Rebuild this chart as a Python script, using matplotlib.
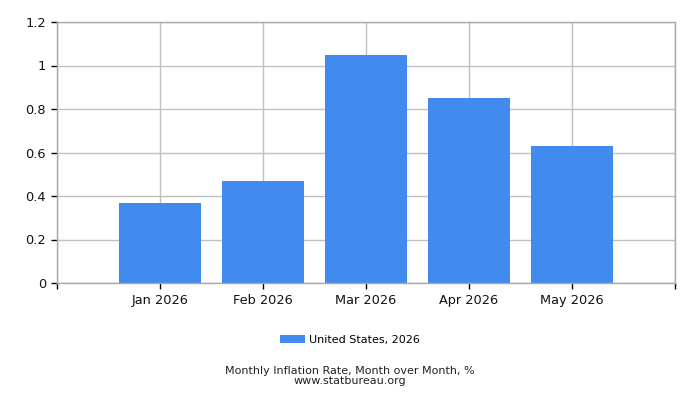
import matplotlib.pyplot as plt

# monthly inflation, month over month (%)
months = ["Jan 2026", "Feb 2026", "Mar 2026", "Apr 2026", "May 2026"]
values = [0.37, 0.47, 1.05, 0.85, 0.63]
y_ticks = [0, 0.2, 0.4, 0.6, 0.8, 1, 1.2]
y_labels = ["0", "0.2", "0.4", "0.6", "0.8", "1", "1.2"]

plt.rcParams['font.family'] = 'DejaVu Sans'

fig = plt.figure(figsize=(7, 4), dpi=100)
ax = fig.add_axes([57/700, 1-283/400, 618/700, 261/400])

pos = list(range(len(months)))
ax.bar(pos, values, width=0.8, color="#418bee", zorder=2, label="United States, 2026")

ax.set_xlim(-1, len(months))
ax.set_ylim(0, 1.2)
ax.set_xticks([-1] + pos + [len(months)])
ax.set_xticklabels([""] + months + [""], fontsize=9.3, color="#111111")
ax.set_yticks(y_ticks)
ax.set_yticklabels(y_labels, fontsize=9.3, color="#111111")
ax.grid(True, color="#c0c0c0", linewidth=1, zorder=0)
ax.tick_params(length=4, width=1, color="black", pad=4)
for s in ax.spines.values():
    s.set_color("#a8a8a8")
    s.set_linewidth(1)

fig.legend(loc="center", bbox_to_anchor=(0.5, 1-340/400), frameon=False,
           fontsize=8, handlelength=2.2, handleheight=0.7, handletextpad=0.4)
fig.text(0.5, 1-371/400, "Monthly Inflation Rate, Month over Month, %",
         ha="center", va="center", fontsize=8, color="#222222")
fig.text(0.5, 1-381/400, "www.statbureau.org",
         ha="center", va="center", fontsize=8, color="#222222")

fig.savefig("out.png", dpi=100)
